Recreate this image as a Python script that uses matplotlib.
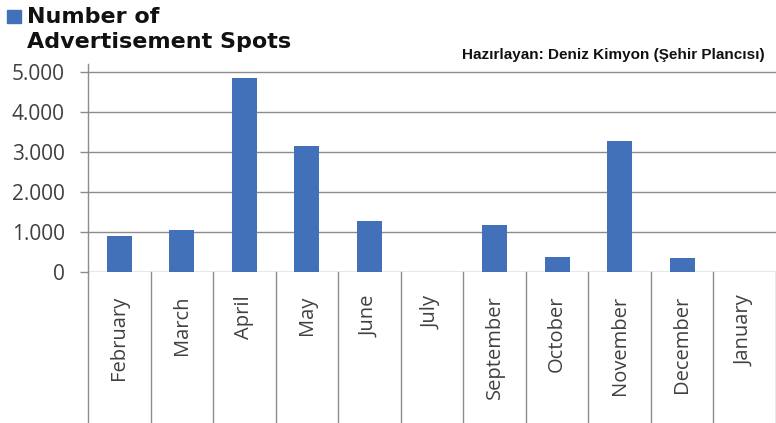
import matplotlib
matplotlib.use("Agg")
import matplotlib.pyplot as plt
from matplotlib.patches import Rectangle
import numpy as np

months = ["February", "March", "April", "May", "June", "July",
          "September", "October", "November", "December", "January"]
spots = [900, 1050, 4840, 3160, 1270, 0, 1180, 380, 3280, 360, 0]
yticks = [0, 1000, 2000, 3000, 4000, 5000]
ytick_labels = ["0", "1.000", "2.000", "3.000", "4.000", "5.000"]
series_label = "Number of\nAdvertisement Spots"
credit = "Hazırlayan: Deniz Kimyon (Şehir Plancısı)"

W, H = 776, 423
fig = plt.figure(figsize=(W / 100, H / 100), dpi=100)
fig.patch.set_facecolor("white")

bar_color = "#4270B9"
grid_color = "#8c8c8c"
text_color = "#404040"

left = 88 / W
bottom = 1 - 272 / H
top = 1 - 64 / H
ax = fig.add_axes([left, bottom, 1 - left, top - bottom])

x = np.arange(len(months))
ax.bar(x, spots, width=0.4, color=bar_color, zorder=3)

ax.set_xlim(-0.5, len(months) - 0.5)
ax.set_ylim(0, 5200)
ax.set_yticks(yticks)
ax.set_yticklabels(ytick_labels, family="Open Sans", fontsize=15, color=text_color)
ax.tick_params(axis="y", length=5.8, width=1, color=grid_color, pad=11)
ax.yaxis.grid(True, color=grid_color, linewidth=1, zorder=0)
ax.set_axisbelow(True)

for s in ["top", "right", "bottom"]:
    ax.spines[s].set_visible(False)
ax.spines["left"].set_color(grid_color)
ax.spines["left"].set_linewidth(1)

# category labels
ax.set_xticks(x)
ax.set_xticklabels(months, rotation=90, family="Open Sans", fontsize=14.5,
                   color=text_color, va="top", ha="center")
ax.tick_params(axis="x", length=0, pad=17)

# category separators below the axis
trans = ax.get_xaxis_transform()
for b in np.arange(len(months) + 1) - 0.5:
    ax.plot([b, b], [0, -151 / (272 - 64)], transform=trans, color=grid_color,
            linewidth=1, clip_on=False, zorder=1)

# legend-like title
fig.patches.append(Rectangle((7 / W, 1 - 23 / H), 14 / W, 13 / H,
                             transform=fig.transFigure, color=bar_color))
fig.text(27 / W, 1 - 23 / H, "Number of", family="DejaVu Sans", weight="bold",
         fontsize=16, color="#111111", va="baseline", ha="left")
fig.text(27 / W, 1 - 48 / H, "Advertisement Spots", family="DejaVu Sans",
         weight="bold", fontsize=16, color="#111111", va="baseline", ha="left")

fig.text(765 / W, 1 - 59 / H, credit, family="Liberation Sans", weight="bold",
         fontsize=11, color="#111111", va="baseline", ha="right")

fig.savefig("out.png", dpi=100)
